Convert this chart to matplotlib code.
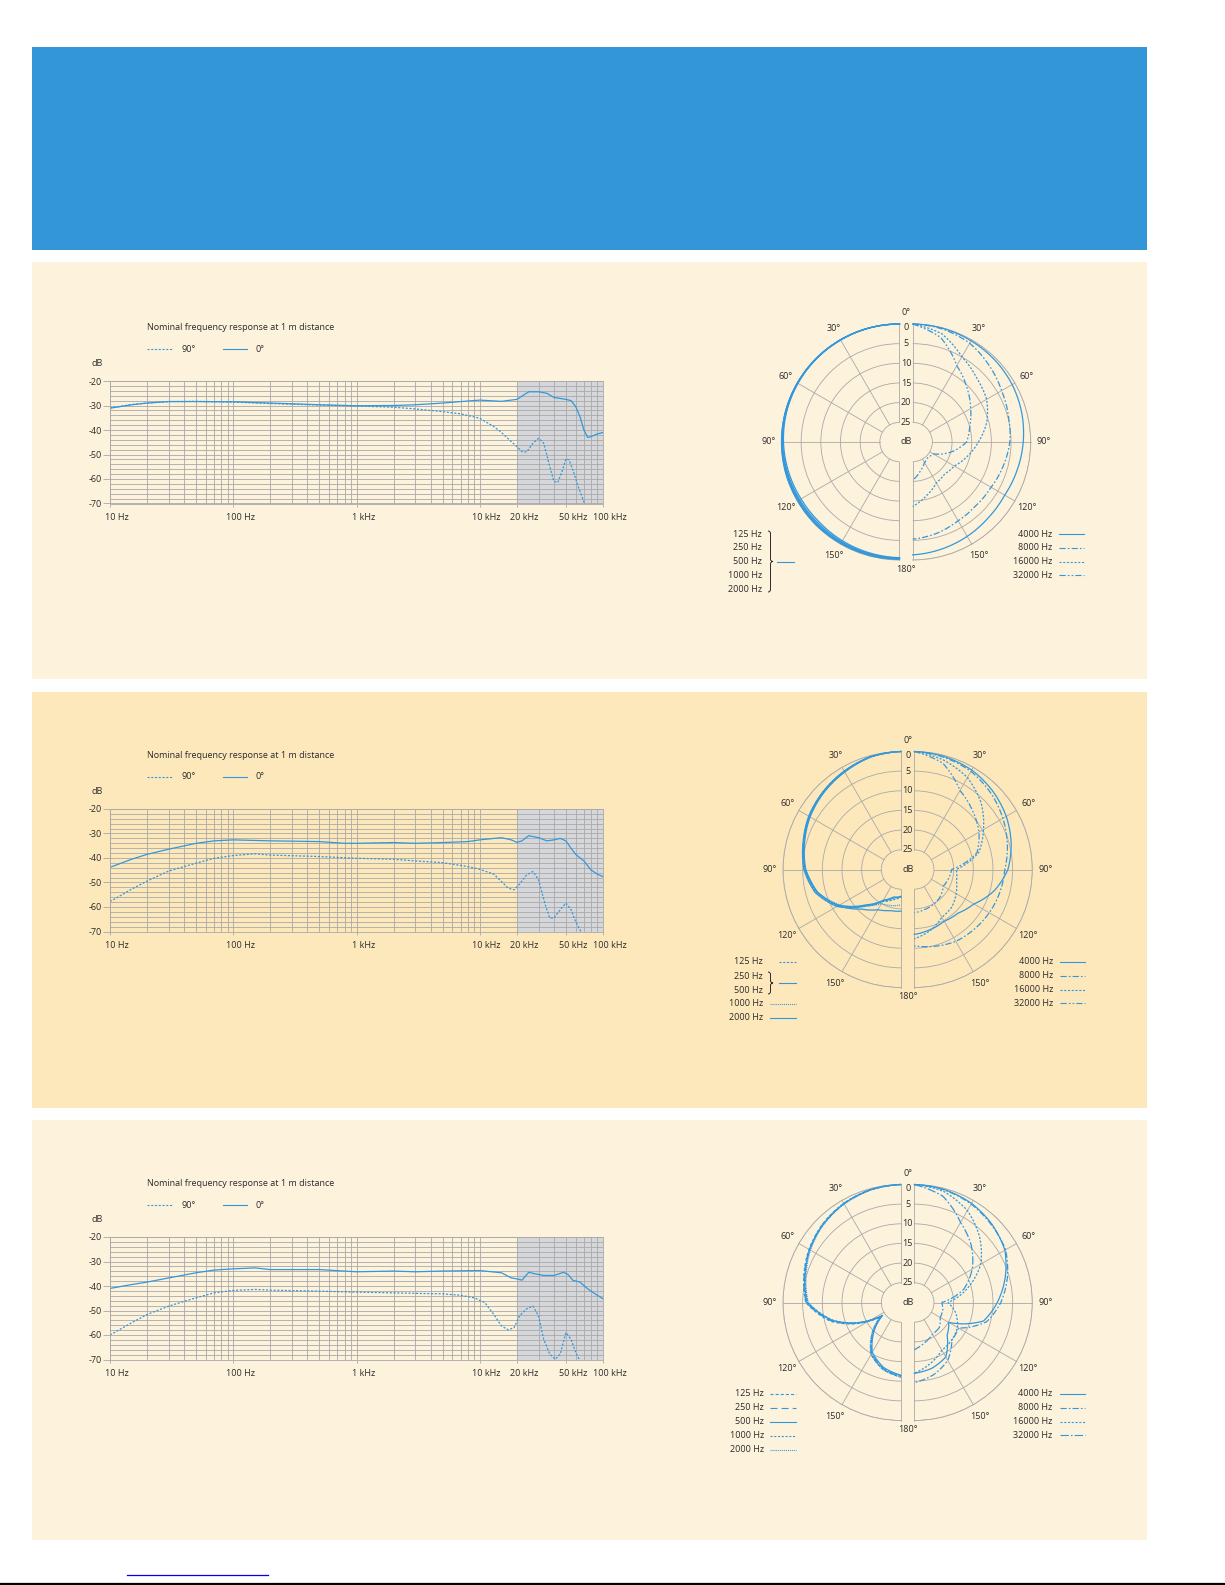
import numpy as np
import matplotlib
matplotlib.use('Agg')
import matplotlib.pyplot as plt
from matplotlib.lines import Line2D
from matplotlib.patches import Rectangle, PathPatch
from matplotlib.path import Path
from matplotlib.ticker import FixedLocator, LogLocator, MultipleLocator, NullFormatter
from matplotlib.transforms import ScaledTranslation

W, H = 1225, 1585
FS = 6.5
plt.rcParams['font.family'] = ['Open Sans', 'DejaVu Sans']
plt.rcParams['font.size'] = FS
plt.rcParams['lines.scale_dashes'] = False
plt.rcParams['axes.unicode_minus'] = False

BLUE = '#3398db'
GRID = '#a9a9a9'
TXT = '#2b2b2b'
HEAD = '#3296d8'
CREAM = '#fdf2dc'
CREAM2 = '#fde8bc'
SHADE = '#d5d7da'

###############################################################################
# Frequency response data (dB)

f0_p1 = [10, 15, 20, 30, 50, 100, 200, 500, 1000, 2000, 3000, 5000, 7000,
         10000, 15000, 20000, 25000, 30000, 35000, 40000, 50000, 55000,
         60000, 65000, 70000, 75000, 80000, 90000, 100000]
db0_p1 = [-31.1, -29.7, -29.0, -28.4, -28.4, -28.5, -29.0, -29.7, -30.1,
          -30.0, -29.7, -29.0, -28.4, -27.8, -28.3, -27.5, -24.4, -24.4,
          -25.0, -26.7, -27.5, -28.0, -30.4, -34.5, -40.0, -43.0, -42.7,
          -41.6, -41.0]
f90_p1 = [10, 15, 20, 30, 50, 100, 200, 500, 1000, 2000, 3000, 5000, 7000,
          10000, 13000, 15000, 18000, 20000, 22000, 24000, 27000, 30000,
          33000, 37000, 40000, 43000, 47000, 50000, 53000, 57000, 63000,
          70000, 72000]
db90_p1 = [-31.0, -29.6, -29.0, -28.4, -28.3, -28.6, -29.2, -29.8, -30.2,
           -30.7, -31.4, -32.5, -33.4, -35.2, -38.6, -41.0, -44.7, -46.8,
           -48.8, -49.0, -45.4, -43.4, -45.4, -54.9, -61.0, -61.4, -56.3,
           -51.8, -52.2, -56.3, -63.2, -69.3, -71.0]

f0_p2 = [10, 15, 20, 30, 50, 70, 100, 200, 500, 800, 1000, 2000, 3000,
         5000, 8000, 10000, 15000, 18000, 20000, 22000, 25000, 30000, 35000,
         40000, 45000, 50000, 55000, 60000, 70000, 80000, 90000, 100000]
db0_p2 = [-43.8, -40.5, -38.5, -36.4, -34.0, -33.0, -32.6, -33.0, -33.3,
          -34.0, -34.0, -33.7, -34.0, -33.7, -33.3, -32.6, -31.7, -32.6,
          -33.6, -33.0, -30.9, -31.7, -33.0, -32.6, -32.0, -33.0, -36.0,
          -38.5, -41.2, -44.9, -46.6, -47.6]
f90_p2 = [10, 15, 20, 30, 50, 70, 100, 150, 200, 500, 1000, 2000, 3000,
          5000, 8000, 10000, 13000, 15000, 17000, 19000, 21000, 24000,
          27000, 30000, 34000, 37000, 40000, 45000, 50000, 55000, 60000,
          65000, 68000]
db90_p2 = [-57.8, -52.7, -49.4, -45.3, -42.1, -40.1, -39.0, -38.3, -38.8,
           -39.4, -40.1, -40.5, -41.2, -41.9, -43.5, -44.6, -46.6, -49.6,
           -52.3, -53.0, -50.7, -46.9, -45.5, -48.9, -59.1, -64.5, -64.5,
           -61.1, -58.4, -61.1, -65.9, -69.3, -71.0]

f0_p3 = [10, 15, 20, 30, 50, 70, 100, 150, 200, 500, 1000, 2000, 3000,
         5000, 10000, 15000, 18000, 20000, 22000, 25000, 28000, 33000,
         40000, 48000, 52000, 57000, 65000, 75000, 85000, 100000]
db0_p3 = [-41.0, -39.4, -38.4, -36.7, -34.6, -33.5, -33.0, -32.6, -33.3,
          -33.3, -34.2, -33.9, -34.2, -33.9, -33.7, -34.6, -36.7, -37.1,
          -37.6, -34.4, -35.0, -35.7, -35.7, -34.4, -35.3, -37.7, -38.4,
          -41.1, -43.0, -45.2]
f90_p3 = [10, 15, 20, 30, 50, 70, 100, 150, 200, 500, 1000, 2000, 3000,
          5000, 7000, 9000, 11000, 13000, 15000, 17000, 19000, 21000, 24000,
          27000, 30000, 33000, 37000, 41000, 45000, 50000, 55000, 60000,
          65000]
db90_p3 = [-60.0, -55.0, -51.6, -48.2, -44.8, -42.8, -41.8, -41.4, -41.7,
           -42.1, -42.5, -42.8, -43.0, -43.2, -43.8, -44.8, -46.8, -51.6,
           -56.3, -57.9, -57.0, -52.2, -49.3, -48.2, -52.2, -61.7, -67.8,
           -69.9, -67.8, -59.0, -61.7, -67.1, -70.5]

freq_ticks = [10, 100, 1000, 10000, 20000, 50000, 100000]
freq_tick_labels = ['10 Hz', '100 Hz', '1 kHz', '10 kHz', '20 kHz',
                    '50 kHz', '100 kHz']
db_ticks = [-20, -30, -40, -50, -60, -70]
db_tick_labels = ['-20', '-30', '-40', '-50', '-60', '-70']

###############################################################################
# Polar pattern data: attenuation in dB against angle (deg)

polar_deg = [0, 15, 30, 45, 60, 75, 90, 105, 120, 135, 150, 165, 180]
p3_low_deg = [0, 15, 30, 45, 60, 75, 90, 105, 115, 125, 135, 150, 165, 180]

p1_125 = [0, 0, 0, 0, 0, 0, 0, 0, 0.1, 0.1, 0.2, 0.2, 0.2]
p1_250 = [0, 0, 0, 0, 0, 0, 0.1, 0.2, 0.3, 0.3, 0.3, 0.3, 0.3]
p1_500 = [0, 0, 0, 0, 0.1, 0.1, 0.2, 0.3, 0.5, 0.5, 0.5, 0.4, 0.4]
p1_1000 = [0, 0, 0, 0.1, 0.1, 0.2, 0.3, 0.5, 0.7, 0.8, 0.7, 0.6, 0.5]
p1_2000 = [0, 0, 0.1, 0.1, 0.2, 0.3, 0.5, 0.8, 1.1, 1.2, 1.0, 0.8, 0.6]
p1_4000 = [0, 0.1, 0.3, 0.5, 0.8, 1.3, 1.9, 2.5, 3.0, 2.8, 2.3, 1.8, 1.3]
p1_8000 = [0, 0.3, 1.0, 2.5, 3.9, 4.8, 5.3, 6.2, 7.0, 7.2, 6.9, 6.0, 5.3]
p1_16000 = [0, 1.5, 5.0, 7.0, 8.3, 10.5, 13.3, 15.7, 17.8, 18.5, 18.0,
            16.0, 13.6]
p1_32000 = [0, 2.5, 7.6, 10.5, 13.0, 15.0, 16.3, 20.0, 24.0, 24.5, 24.0,
            22.4, 20.3]

p2_125 = [0, 0.3, 1.2, 2.0, 3.0, 4.3, 5.4, 7.5, 11.4, 17.0, 20.6, 22.0, 23.0]
p2_250 = [0, 0.3, 1.1, 2.0, 2.9, 4.2, 5.3, 7.4, 11.2, 16.8, 20.8, 22.5, 23.2]
p2_500 = [0, 0.3, 1.2, 2.1, 3.1, 4.4, 5.6, 7.8, 11.8, 17.3, 21.0, 22.8, 23.0]
p2_1000 = [0, 0.3, 1.3, 2.2, 3.2, 4.5, 5.7, 7.9, 12.0, 17.0, 20.0, 20.5,
           21.0]
p2_2000 = [0, 0.4, 1.4, 2.3, 3.3, 4.6, 5.8, 8.0, 11.6, 15.8, 18.2, 19.2,
           19.4]
p2_4000 = [0, 0.3, 0.8, 1.8, 3.0, 4.5, 6.2, 9.0, 12.5, 14.3, 14.8, 14.2, 13.5]
p2_8000 = [0, 0.5, 1.2, 2.5, 4.0, 5.5, 7.0, 7.5, 8.0, 8.5, 8.9, 9.8, 10.6]
p2_16000 = [0, 1.2, 3.0, 6.0, 9.7, 13.0, 19.3, 18.9, 17.7, 16.5, 16.0,
            14.0, 12.4]
p2_32000 = [0, 2.0, 6.8, 9.0, 11.0, 13.5, 20.5, 21.0, 21.5, 20.5, 19.9,
            19.5, 19.0]

p3_125 = [0, 0.3, 0.9, 1.8, 3.0, 4.4, 5.8, 11.5, 17.2, 23.8, 20.0, 14.8,
          12.4, 11.0]
p3_250 = [0, 0.3, 1.0, 1.9, 3.1, 4.5, 5.9, 11.8, 17.5, 24.0, 20.3, 15.1,
          12.6, 11.2]
p3_500 = [0, 0.3, 1.0, 2.0, 3.2, 4.7, 6.1, 12.1, 17.8, 24.3, 20.6, 15.4,
          12.9, 11.5]
p3_1000 = [0, 0.3, 0.9, 1.9, 3.2, 4.8, 6.3, 12.3, 17.9, 24.0, 20.2, 15.0,
           12.5, 11.3]
p3_2000 = [0, 0.4, 1.1, 2.1, 3.4, 5.0, 6.4, 12.0, 17.4, 23.5, 19.8, 14.7,
           12.3, 11.1]
p3_4000 = [0, 0.3, 0.9, 2.0, 3.4, 6.1, 8.9, 11.8, 19.9, 18.2, 14.0, 12.7,
           12.0]
p3_8000 = [0, 0.4, 1.1, 2.2, 3.2, 5.5, 8.0, 11.0, 17.0, 16.5, 13.0, 11.0, 9.6]
p3_16000 = [0, 0.8, 3.0, 6.5, 10.5, 16.0, 21.4, 19.0, 17.3, 16.5, 16.0,
            14.0, 12.0]
p3_32000 = [0, 2.0, 6.5, 9.5, 13.0, 17.0, 23.0, 22.5, 22.4, 21.0, 20.7,
            19.5, 18.0]

ring_db = [0, 5, 10, 15, 20, 25]
ring_labels = ['0', '5', '10', '15', '20', '25']
spoke_deg = [0, 30, 60, 90, 120, 150, 180]
angle_label_deg = [30, 60, 90, 120, 150]

low_names = ['125 Hz', '250 Hz', '500 Hz', '1000 Hz', '2000 Hz']
high_names = ['4000 Hz', '8000 Hz', '16000 Hz', '32000 Hz']

# line styles
SOLID = '-'
DOT = (0, (1.5, 1.2))
FINE = (0, (0.7, 0.7))
DASHDOT = (0, (4.5, 1.5, 1.2, 1.5))
DASHDOTDOT = (0, (4.5, 1.5, 1.2, 1.5, 1.2, 1.5))
SHORTDASH = (0, (2.2, 1.5))
LONGDASH = (0, (5, 3))

###############################################################################
# Page layout helpers (pixel coordinates, y from top)

fig = plt.figure(figsize=(W / 100, H / 100), dpi=100)
fig.patch.set_facecolor('white')


def fx(x):
    return x / W


def fy(y):
    return 1 - y / H


def rect(x0, y0, x1, y1, color):
    fig.add_artist(Rectangle((fx(x0), fy(y1)), (x1 - x0) / W, (y1 - y0) / H,
                             transform=fig.transFigure, facecolor=color,
                             edgecolor='none', zorder=-5))


def hline(x0, x1, y, ls=SOLID, color=BLUE, lw=0.8):
    fig.add_artist(Line2D([fx(x0), fx(x1)], [fy(y), fy(y)],
                          transform=fig.transFigure, color=color, lw=lw,
                          ls=ls))


def label(x, y, s, ha='left'):
    fig.text(fx(x), fy(y), s, ha=ha, va='center', color=TXT, fontsize=FS)


def brace(x, y0, y1, w=5):
    ym = (y0 + y1) / 2
    h = w / 2
    pts = [(x, y0), (x + h, y0), (x + h, y0 + h), (x + h, ym - h),
           (x + h, ym), (x + w, ym), (x + h, ym), (x + h, ym + h),
           (x + h, y1 - h), (x + h, y1), (x, y1)]
    codes = [Path.MOVETO, Path.CURVE3, Path.CURVE3, Path.LINETO,
             Path.CURVE3, Path.CURVE3, Path.CURVE3, Path.CURVE3,
             Path.LINETO, Path.CURVE3, Path.CURVE3]
    verts = [(fx(a), fy(b)) for a, b in pts]
    fig.add_artist(PathPatch(Path(verts, codes), transform=fig.transFigure,
                             fill=False, edgecolor=TXT, lw=0.7))


# backgrounds
rect(32, 47, 1147, 250, HEAD)
rect(32, 262, 1147, 679, CREAM)
rect(32, 692, 1147, 1108, CREAM2)
rect(32, 1120, 1147, 1540, CREAM)

###############################################################################
# Frequency response charts


def freq_chart(top, f0, db0, f90, db90):
    left, right, bottom = 110, 603, top + 122.5
    ax = fig.add_axes([fx(left), fy(bottom), (right - left) / W,
                       (bottom - top) / H])
    ax.set_facecolor('none')
    ax.set_xscale('log')
    ax.axvspan(2e4, 1e5, color=SHADE, lw=0, zorder=0)
    ax.xaxis.set_major_locator(FixedLocator(freq_ticks))
    ax.xaxis.set_minor_locator(LogLocator(base=10, subs=np.arange(2, 10),
                                          numticks=30))
    ax.xaxis.set_minor_formatter(NullFormatter())
    ax.set_xticklabels(freq_tick_labels)
    ax.set_yticks(db_ticks)
    ax.set_yticklabels(db_tick_labels)
    ax.yaxis.set_minor_locator(MultipleLocator(2))
    ax.set_axisbelow(True)
    ax.grid(which='both', color=GRID, lw=0.6)
    ax.tick_params(axis='y', which='major', length=5, width=0.6, color=GRID,
                   pad=1, labelsize=FS, labelcolor=TXT)
    ax.tick_params(axis='x', which='major', length=2.5, width=0.6,
                   color=GRID, pad=4, labelsize=FS, labelcolor=TXT)
    ax.tick_params(which='minor', length=0)
    for lab in ax.get_xticklabels():
        lab.set_transform(lab.get_transform() +
                          ScaledTranslation(7 / 100, 0, fig.dpi_scale_trans))
    for sp in ax.spines.values():
        sp.set_color(GRID)
        sp.set_linewidth(0.6)

    ax.plot(f0, db0, color=BLUE, lw=0.9)
    ax.plot(f90, db90, color=BLUE, lw=0.9, ls=DOT)
    ax.set_xlim(10, 1e5)
    ax.set_ylim(-70, -20)

    label(147, top - 53, 'Nominal frequency response at 1 m distance')
    hline(147, 172, top - 32, ls=DOT)
    label(182, top - 32, '90°')
    hline(223, 247, top - 32)
    label(256, top - 32, '0°')
    label(92, top - 18, 'dB')
    return ax


freq_chart(381, f0_p1, db0_p1, f90_p1, db90_p1)
freq_chart(809, f0_p2, db0_p2, f90_p2, db90_p2)
freq_chart(1237, f0_p3, db0_p3, f90_p3, db90_p3)

###############################################################################
# Polar patterns: two half diagrams side by side with a small gap

R = 118


def half_polar(cx, cy, side):
    # matplotlib pads the half wedge out to a square box centred on it
    if side == 'right':
        x0 = cx - R / 2
    else:
        x0 = cx - 1.5 * R
    ax = fig.add_axes([fx(x0), fy(cy + R), 2 * R / W, 2 * R / H],
                      projection='polar')
    ax.set_facecolor('none')
    ax.set_theta_zero_location('N')
    ax.set_theta_direction(-1 if side == 'right' else 1)
    ax.set_thetamin(0)
    ax.set_thetamax(180)
    ax.set_rlim(30, 0)
    ax.set_rticks(ring_db)
    ax.set_yticklabels([])
    ax.set_xticks([])
    ax.yaxis.grid(True, color=GRID, lw=0.6)
    for k in ('start', 'end', 'inner'):
        ax.spines[k].set_color('none')
    ax.spines['polar'].set_color(GRID)
    ax.spines['polar'].set_linewidth(0.6)
    for a in spoke_deg:
        ax.plot([np.deg2rad(a)] * 2, [25, 0], color=GRID, lw=0.6,
                clip_on=False, zorder=1)
    for a in angle_label_deg:
        ax.text(np.deg2rad(a), -3.4, f'{a}°', ha='center', va='center',
                color=TXT, fontsize=FS, clip_on=False)
    return ax


def polar_line(ax, deg, att, ls):
    ln, = ax.plot(np.deg2rad(deg), att, color=BLUE, lw=0.9, ls=ls,
                  clip_on=False, zorder=3)
    # let the polar transform follow arcs between readings
    ln.get_path()._interpolation_steps = 24
    return ln


def polar_pair(cxL, cxR, cy, low_deg, low, low_styles, high, high_styles):
    axL = half_polar(cxL, cy, 'left')
    axR = half_polar(cxR, cy, 'right')
    gap = cxR - cxL
    for rd, rl in zip(ring_db, ring_labels):
        axR.annotate(rl, xy=(0, rd), xytext=(-gap / 2, -4 if rd == 0 else 0),
                     textcoords='offset pixels', ha='center', va='center',
                     color=TXT, fontsize=FS, annotation_clip=False)
    axR.annotate('0°', xy=(0, -3.4), xytext=(-gap / 2, -2),
                 textcoords='offset pixels', ha='center', va='center',
                 color=TXT, fontsize=FS, annotation_clip=False)
    axR.annotate('180°', xy=(np.pi, -2.4), xytext=(-gap / 2, 0),
                 textcoords='offset pixels', ha='center', va='center',
                 color=TXT, fontsize=FS, annotation_clip=False)
    axR.annotate('dB', xy=(0, 30), xytext=(-gap / 2, 0),
                 textcoords='offset pixels', ha='center', va='center',
                 color=TXT, fontsize=FS, annotation_clip=False)
    for att, ls in zip(low, low_styles):
        polar_line(axL, low_deg, att, ls)
    for att, ls in zip(high, high_styles):
        polar_line(axR, polar_deg, att, ls)
    for ax in (axL, axR):
        ax.set_rlim(30, 0)


def high_legend(y0, styles, xr=1052, x0=1059, x1=1084):
    for i, (name, ls) in enumerate(zip(high_names, styles)):
        y = y0 + i * 13.8
        label(xr, y, name, ha='right')
        hline(x0, x1, y, ls=ls)


# panel 1: omni
high_styles_1 = [SOLID, DASHDOT, DOT, DASHDOTDOT]
polar_pair(899.5, 912.7, 442, polar_deg,
           [p1_125, p1_250, p1_500, p1_1000, p1_2000], [SOLID] * 5,
           [p1_4000, p1_8000, p1_16000, p1_32000], high_styles_1)
for i, name in enumerate(low_names):
    label(762, 534 + i * 13.8, name, ha='right')
brace(768, 531, 592)
hline(777, 794, 561.5)
high_legend(534, high_styles_1)

# panel 2: wide cardioid
high_styles_2 = [SOLID, DASHDOT, DOT, DASHDOTDOT]
polar_pair(901, 914.3, 869.5, polar_deg,
           [p2_125, p2_250, p2_500, p2_1000, p2_2000],
           [DOT, SOLID, SOLID, FINE, SOLID],
           [p2_4000, p2_8000, p2_16000, p2_32000], high_styles_2)
label(763, 962, '125 Hz', ha='right')
hline(779, 796, 962, ls=DOT)
label(763, 976.5, '250 Hz', ha='right')
label(763, 990.5, '500 Hz', ha='right')
brace(768, 972, 994)
hline(779, 796, 983.5)
label(763, 1004, '1000 Hz', ha='right')
hline(770, 796, 1004, ls=FINE)
label(763, 1018, '2000 Hz', ha='right')
hline(770, 796, 1018)
high_legend(962, high_styles_2, xr=1053, x0=1060, x1=1085)

# panel 3: cardioid
low_styles_3 = [SHORTDASH, LONGDASH, SOLID, DOT, FINE]
high_styles_3 = [SOLID, DASHDOT, DOT, (0, (6, 1.5, 1.2, 1.5))]
polar_pair(901, 914.3, 1302.5, p3_low_deg,
           [p3_125, p3_250, p3_500, p3_1000, p3_2000], low_styles_3,
           [p3_4000, p3_8000, p3_16000, p3_32000], high_styles_3)
for i, (name, ls) in enumerate(zip(low_names, low_styles_3)):
    y = 1394 + i * 14
    label(764, y, name, ha='right')
    hline(770, 796, y, ls=ls)
high_legend(1394, high_styles_3, xr=1052, x0=1060, x1=1085)

# page foot
hline(127, 268, 1575, color='#0000ee', lw=0.9)
hline(0, W, 1584, color='black', lw=1.6)

fig.savefig('out.png', dpi=100)
